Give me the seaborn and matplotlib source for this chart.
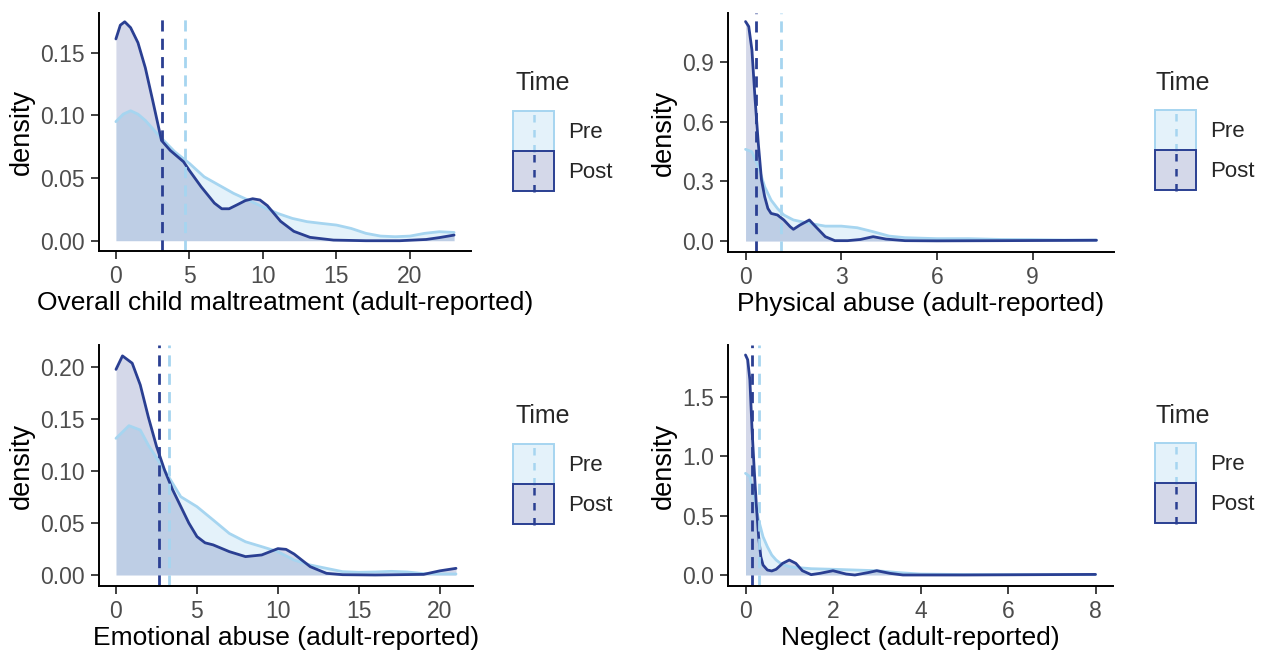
import seaborn as sns
import matplotlib.pyplot as plt
import pandas as pd
import numpy as np
from matplotlib.patches import Patch, Rectangle
from matplotlib.lines import Line2D
from matplotlib.legend_handler import HandlerBase

# -----------------------------
# 1. Density curves
# -----------------------------
# Overall child maltreatment
overall_x_post = [0, 0.3, 0.6, 1.0, 1.5, 2.0, 2.5, 3.1, 3.7, 4.6, 5.0, 5.8, 6.7, 7.2, 7.7,
                  8.3, 8.8, 9.3, 9.8, 10.3, 11.2, 12.1, 13.2, 14.8, 17.0, 19.3, 21.1,
                  22.0, 23.0]
overall_y_post = [0.161, 0.172, 0.1747, 0.170, 0.158, 0.138, 0.112, 0.080, 0.072, 0.063,
                  0.056, 0.043, 0.030, 0.0255, 0.0255, 0.029, 0.032, 0.0335, 0.0325,
                  0.028, 0.0155, 0.0075, 0.0027, 0.0005, 0.0, 0.0, 0.001, 0.0025, 0.0045]
overall_x_pre = [0, 0.5, 1, 1.5, 2, 3, 4, 5, 6, 7, 8, 9, 10, 11, 12, 13, 14, 15, 16, 17,
                 18, 19, 20, 21, 22, 23]
overall_y_pre = [0.095, 0.101, 0.1037, 0.101, 0.096, 0.083, 0.071, 0.0617, 0.051, 0.0444,
                 0.0378, 0.0324, 0.027, 0.0218, 0.0178, 0.0152, 0.0138, 0.0125, 0.0098,
                 0.0059, 0.0037, 0.0032, 0.0037, 0.0059, 0.0072, 0.0066]
overall_means = [4.70, 3.12]  # Pre, Post

# Physical abuse
phys_x_post = [0, 0.1, 0.2, 0.3, 0.4, 0.5, 0.6, 0.7, 0.8, 1.0, 1.2, 1.4, 1.5, 1.7, 2.0,
               2.2, 2.5, 2.8, 3.2, 3.6, 4.0, 4.4, 5.0, 6.0, 8.0, 11.0]
phys_y_post = [1.103, 1.078, 0.96, 0.71, 0.49, 0.307, 0.223, 0.164, 0.139, 0.131, 0.106,
               0.072, 0.059, 0.080, 0.106, 0.072, 0.022, 0.002, 0.002, 0.008, 0.022,
               0.010, 0.002, 0.001, 0.002, 0.004]
phys_x_pre = [0, 0.2, 0.4, 0.6, 0.8, 1.0, 1.2, 1.5, 2.0, 2.5, 3.0, 3.5, 4.0, 4.5, 5.0,
              6.0, 7.0, 8.0, 9.0, 10.0, 11.0]
phys_y_pre = [0.461, 0.449, 0.374, 0.273, 0.206, 0.164, 0.131, 0.106, 0.089, 0.075, 0.075,
              0.067, 0.047, 0.025, 0.017, 0.012, 0.012, 0.008, 0.007, 0.005, 0.005]
phys_means = [1.12, 0.32]

# Emotional abuse
emo_x_post = [0, 0.4, 1.0, 1.5, 2.0, 2.5, 3.0, 3.5, 4.0, 4.5, 5.0, 5.5, 6.0, 7.0, 8.0,
              9.0, 10.0, 10.5, 11.0, 12.0, 13.0, 14.0, 16.0, 19.0, 20.0, 21.0]
emo_y_post = [0.198, 0.211, 0.204, 0.183, 0.152, 0.124, 0.101, 0.082, 0.066, 0.050, 0.037,
              0.031, 0.029, 0.0225, 0.0177, 0.0193, 0.0254, 0.0247, 0.0202, 0.008, 0.0016,
              0.0003, 0.0, 0.0006, 0.004, 0.0064]
emo_x_pre = [0, 0.8, 1.5, 2, 3, 4, 5, 6, 7, 8, 9, 10, 11, 12, 13, 14, 15, 16, 17, 18,
             19, 20, 21]
emo_y_pre = [0.1316, 0.1438, 0.1396, 0.125, 0.101, 0.0754, 0.0658, 0.053, 0.040, 0.032,
             0.0273, 0.0225, 0.0144, 0.0096, 0.0064, 0.0032, 0.0026, 0.0029, 0.0035,
             0.0029, 0.0013, 0.001, 0.001]
emo_means = [3.25, 2.64]

# Neglect
neg_x_post = [0, 0.05, 0.1, 0.15, 0.2, 0.25, 0.3, 0.35, 0.4, 0.5, 0.6, 0.7, 0.85, 1.0,
              1.15, 1.3, 1.5, 1.7, 2.0, 2.3, 2.5, 2.8, 3.0, 3.3, 3.6, 5.0, 8.0]
neg_y_post = [1.85, 1.81, 1.64, 1.22, 0.883, 0.575, 0.322, 0.154, 0.084, 0.042, 0.034,
              0.048, 0.098, 0.126, 0.098, 0.036, 0.003, 0.014, 0.036, 0.008, 0.0, 0.02,
              0.036, 0.014, 0.0, 0.0, 0.005]
neg_x_pre = [0, 0.1, 0.2, 0.3, 0.4, 0.5, 0.6, 0.7, 0.8, 1.0, 1.2, 1.5, 2.0, 2.5, 3.0,
             3.5, 4.0, 5.0, 6.0, 7.0, 8.0]
neg_y_pre = [0.855, 0.827, 0.659, 0.463, 0.322, 0.238, 0.168, 0.126, 0.098, 0.070, 0.062,
             0.053, 0.048, 0.042, 0.036, 0.020, 0.008, 0.004, 0.003, 0.003, 0.004]
neg_means = [0.30, 0.145]

groups = ["Pre", "Post"]
pre_color = "#a6d5f0"
post_color = "#2a3f92"

# -----------------------------
# 2. Style
# -----------------------------
sns.set_style("white")
plt.rcParams["font.family"] = ["Liberation Sans", "DejaVu Sans"]

fig = plt.figure(figsize=(12.63, 6.53), dpi=100)
W, H = 1263, 653


def px_axes(left, top, right, bottom):
    return fig.add_axes([left / W, 1 - bottom / H, (right - left) / W, (bottom - top) / H])


class KeyHandler(HandlerBase):
    # ggplot-style key: filled box with a vertical dashed line through it
    def create_artists(self, legend, orig_handle, xdescent, ydescent, width, height,
                       fontsize, trans):
        rect = Rectangle((-xdescent, -ydescent), width, height,
                         facecolor=orig_handle.get_facecolor(),
                         edgecolor=orig_handle.get_edgecolor(), lw=1.4, transform=trans)
        xm = -xdescent + width / 2
        ln = Line2D([xm, xm], [-ydescent - 1, height - ydescent + 1],
                    color=orig_handle.get_edgecolor(), lw=1.8, linestyle=(0, (3, 3)),
                    transform=trans)
        return [rect, ln]


panels = [
    dict(box=(99, 13, 471, 251), xlim=(-1.15, 24.15), ylim=(-0.0082, 0.1817),
         xticks=[0, 5, 10, 15, 20], yticks=[0, 0.05, 0.10, 0.15], yfmt="{:.2f}",
         xlabel="Overall child maltreatment (adult-reported)",
         pre=(overall_x_pre, overall_y_pre), post=(overall_x_post, overall_y_post),
         means=overall_means, title=(515, 83), keys=(513, 111)),
    dict(box=(728, 13, 1114, 252), xlim=(-0.55, 11.55), ylim=(-0.055, 1.146),
         xticks=[0, 3, 6, 9], yticks=[0, 0.3, 0.6, 0.9], yfmt="{:.1f}",
         xlabel="Physical abuse (adult-reported)",
         pre=(phys_x_pre, phys_y_pre), post=(phys_x_post, phys_y_post),
         means=phys_means, title=(1156, 83), keys=(1155, 110)),
    dict(box=(99, 345, 473, 586), xlim=(-1.05, 22.05), ylim=(-0.0106, 0.2215),
         xticks=[0, 5, 10, 15, 20], yticks=[0, 0.05, 0.10, 0.15, 0.20], yfmt="{:.2f}",
         xlabel="Emotional abuse (adult-reported)",
         pre=(emo_x_pre, emo_y_pre), post=(emo_x_post, emo_y_post),
         means=emo_means, title=(515, 416), keys=(513, 444)),
    dict(box=(728, 345, 1113, 586), xlim=(-0.4, 8.4), ylim=(-0.0925, 1.934),
         xticks=[0, 2, 4, 6, 8], yticks=[0, 0.5, 1.0, 1.5], yfmt="{:.1f}",
         xlabel="Neglect (adult-reported)",
         pre=(neg_x_pre, neg_y_pre), post=(neg_x_post, neg_y_post),
         means=neg_means, title=(1156, 416), keys=(1155, 443)),
]

for p in panels:
    ax = px_axes(*p["box"])
    df = pd.concat([
        pd.DataFrame({"x": p["pre"][0], "density": p["pre"][1], "Time": "Pre"}),
        pd.DataFrame({"x": p["post"][0], "density": p["post"][1], "Time": "Post"}),
    ])
    # fills first, then curves
    ax.fill_between(p["pre"][0], p["pre"][1], color=pre_color, alpha=0.3, lw=0)
    ax.fill_between(p["post"][0], p["post"][1], color=post_color, alpha=0.2, lw=0)
    sns.lineplot(data=df, x="x", y="density", hue="Time", hue_order=groups,
                 palette=[pre_color, post_color], linewidth=2, legend=False, ax=ax)
    ax.axvline(p["means"][0], color=pre_color, lw=2, linestyle=(0, (4, 2.6)))
    ax.axvline(p["means"][1], color=post_color, lw=2, linestyle=(0, (4, 2.6)))

    ax.set_xlim(*p["xlim"])
    ax.set_ylim(*p["ylim"])
    ax.set_xticks(p["xticks"])
    ax.set_xticklabels([str(t) for t in p["xticks"]])
    ax.set_yticks(p["yticks"])
    ax.set_yticklabels([p["yfmt"].format(t) for t in p["yticks"]])
    ax.tick_params(axis="both", labelsize=16.5, colors="#333333", labelcolor="#4d4d4d",
                   length=6, width=1.3, direction="out", left=True, bottom=True, pad=4)
    ax.tick_params(axis="x", pad=4)
    ax.set_xlabel(p["xlabel"], fontsize=19, color="black", labelpad=2)
    ax.set_ylabel("density", fontsize=19.5, color="black", labelpad=4)
    sns.despine(ax=ax)
    for s in ["left", "bottom"]:
        ax.spines[s].set_linewidth(1.4)
        ax.spines[s].set_color("black")

    # legend: title as text, keys as a separate legend block
    tx, ty = p["title"]
    fig.text(tx / W, 1 - ty / H, "Time", fontsize=18, ha="left", va="center")
    handles = [Patch(facecolor=(0.651, 0.835, 0.941, 0.3), edgecolor=pre_color),
               Patch(facecolor=(0.165, 0.247, 0.573, 0.2), edgecolor=post_color)]
    kx, ky = p["keys"]
    fig.legend(handles, groups, loc="upper left", bbox_to_anchor=(kx / W, 1 - ky / H),
               frameon=False, fontsize=16, handlelength=1.85, handleheight=2.39,
               labelspacing=0.0, handletextpad=0.63, borderpad=0, borderaxespad=0,
               handler_map={Patch: KeyHandler()})

plt.savefig("out.png", dpi=100)
plt.close()
